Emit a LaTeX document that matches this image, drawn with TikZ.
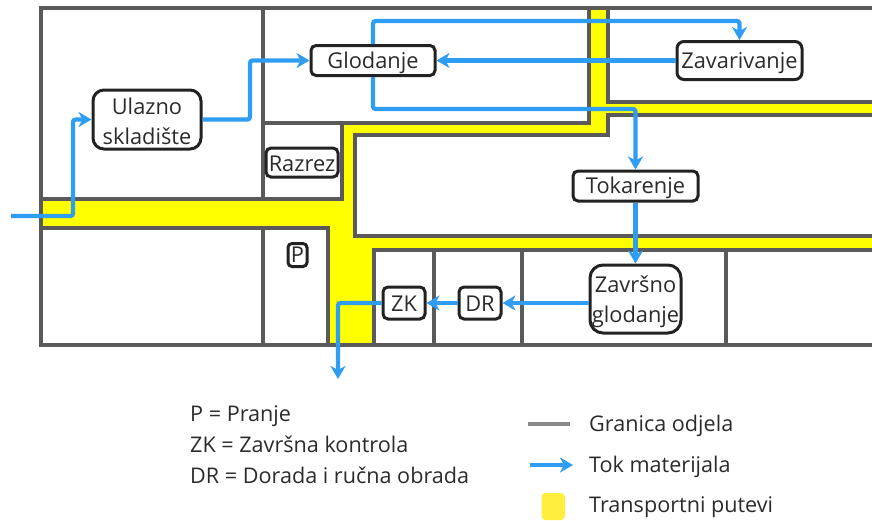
\documentclass[tikz,border=0pt]{standalone}
\usepackage{fontspec}
\setmainfont{Open Sans}
\usetikzlibrary{arrows.meta}
\newcommand\lowr[2]{\raisebox{-#1}[\height][\depth]{#2}}
\definecolor{wallc}{RGB}{90,90,90}
\definecolor{flowc}{RGB}{47,157,244}
\definecolor{inkc}{RGB}{34,34,34}
\definecolor{roadc}{RGB}{255,255,0}
\definecolor{legy}{RGB}{255,238,61}
\definecolor{legg}{RGB}{138,138,138}
\definecolor{textc}{RGB}{43,43,43}
\tikzset{
  wall/.style={draw=wallc,line width=3.8pt,line cap=butt,line join=miter},
  flow/.style={draw=flowc,line width=4.2pt,rounded corners=2.5pt,-{Stealth[length=13pt,width=15pt,inset=4pt]}},
  proc/.style={draw=inkc,fill=white,line width=3pt,rounded corners=#1,inner sep=0pt,text=textc,align=center,font=\fontsize{21.8}{30}\selectfont},
  proc/.default=5pt,
  legtext/.style={anchor=base west,inner sep=0pt,text=textc,font=\fontsize{21.6}{25}\selectfont},
}
\begin{document}
\begin{tikzpicture}[x=1pt,y=-1pt]
\useasboundingbox (0,0) rectangle (872,520);
% roads
\fill[roadc] (41,199)--(342,199)--(342,123)--(589,123)--(589,8)--(608,8)--(608,102)--(872,102)--(872,115)--(608,115)--(608,135)--(355,135)--(355,236)--(872,236)--(872,250)--(374,250)--(374,345)--(328,345)--(328,228)--(41,228)--cycle;
% walls
\draw[wall] (41,8) rectangle (880,345);
\draw[wall] (263,8)--(263,199);
\draw[wall] (41,199)--(343.9,199);
\draw[wall] (342,199)--(342,123);
\draw[wall] (263,123)--(589,123)--(589,8);
\draw[wall] (608,8)--(608,102)--(880,102);
\draw[wall] (880,115)--(608,115)--(608,135)--(355,135)--(355,236)--(880,236);
\draw[wall] (880,250)--(374,250)--(374,345);
\draw[wall] (41,228)--(328,228)--(328,345);
\draw[wall] (263,228)--(263,345);
\draw[wall] (434,250)--(434,345);
\draw[wall] (522,250)--(522,345);
\draw[wall] (726,250)--(726,345);
% process nodes
\node[proc=11pt,minimum width=108pt,minimum height=59pt] (ul) at (147,119.5) {\lowr{2pt}{Ulazno}\\\lowr{2pt}{skladište}};
\node[proc,minimum width=124pt,minimum height=30pt] (gl) at (373,60.5) {\lowr{2pt}{Glodanje}};
\node[proc,minimum width=72pt,minimum height=29pt] (ra) at (302,162.5) {\lowr{1pt}{Razrez}};
\node[proc=4pt,minimum width=19pt,minimum height=23pt] (pp) at (297.5,255) {P};
\node[proc,minimum width=42pt,minimum height=32pt] (zk) at (404,303) {\lowr{1pt}{ZK}};
\node[proc,minimum width=42pt,minimum height=32pt] (dr) at (480,303) {\lowr{1pt}{DR}};
\node[proc=13pt,minimum width=91pt,minimum height=68pt] (zg) at (635.5,299) {\lowr{3pt}{Završno}\\\lowr{3pt}{glodanje}};
\node[proc,minimum width=125pt,minimum height=30pt] (to) at (635.5,186) {\lowr{2pt}{Tokarenje}};
\node[proc=7pt,minimum width=125pt,minimum height=38pt] (za) at (739.5,60.5) {\lowr{2.5pt}{Zavarivanje}};
% free ends
\coordinate (ulazin) at (11,216);
\coordinate (izlaz) at (338,379);
% connectors
\draw[flow] (ulazin) -- (73,216) |- (ul.west);
\draw[flow] (ul.east) -- (250,119.5) |- (gl.west);
\draw[flow] (za.west) -- (gl.east);
\draw[flow] (gl.north) |- (739.5,21) -- (za.north);
\draw[flow] (gl.south) |- (635.5,109) -- (to.north);
\draw[flow] (to.south) -- (zg.north);
\draw[flow] (zg.west |- dr.east) -- (dr.east);
\draw[flow] (dr.west) -- (zk.east);
\draw[flow] (zk.west) -| (izlaz);
% legend
\node[legtext] (l1) at (190,421.5) {P = Pranje};
\node[legtext] (l2) at (190,452.5) {ZK = Završna kontrola};
\node[legtext] (l3) at (190,483.5) {DR = Dorada i ručna obrada};
\node[legtext] (g1) at (589,431.5) {Granica odjela};
\node[legtext] (g2) at (589,472.8) {Tok materijala};
\node[legtext] (g3) at (589,512.8) {Transportni putevi};
\coordinate (a1) at (528,423.5);
\coordinate (a2) at (570,423.5);
\coordinate (b1) at (530,465);
\coordinate (b2) at (573,465);
\draw[draw=legg,line width=4pt] (a1) -- (a2);
\draw[flow] (b1) -- (b2);
\fill[legy,rounded corners=4pt] (541.5,493) rectangle (565,520);
\end{tikzpicture}
\end{document}
